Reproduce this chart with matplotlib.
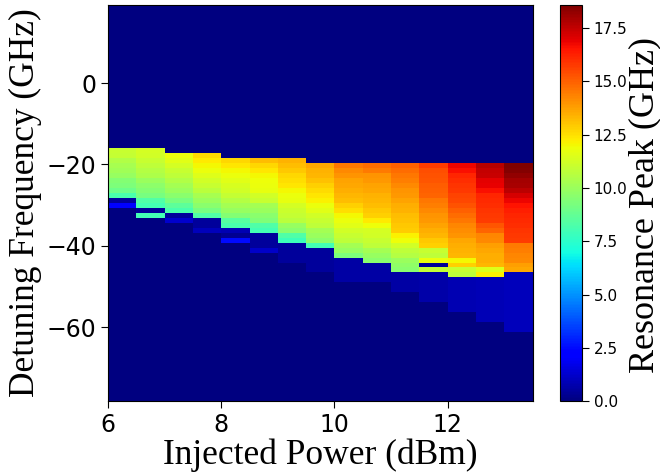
import numpy as np
import matplotlib
matplotlib.use("Agg")
import matplotlib.pyplot as plt

# injected power bins (dBm), 0.5 dBm wide
power = [6.0, 6.5, 7.0, 7.5, 8.0, 8.5, 9.0, 9.5, 10.0, 10.5, 11.0, 11.5, 12.0, 12.5, 13.0]
power_step = 0.5

# detuning sweep: 80 rows from +19.3 down to -78.3 GHz
det_top, det_bottom, n_rows = 19.3, -78.3, 80

# row index (counted from the top) where each column's non-zero values start
first_row = [29, 29, 30, 30, 31, 31, 31, 32, 32, 32, 32, 32, 32, 32, 32]

# resonance peak (GHz) read down each column from first_row
c600 = [11.0, 10.9, 10.5, 10.3, 10.1, 9.9, 9.5, 9.3, 9.0, 8.2, 0.5, 2.3]
c650 = [11.3, 11.2, 11.0, 10.8, 10.6, 10.4, 10.0, 9.7, 9.5, 9.2, 8.3, 8.0, 0.4, 8.0]
c700 = [11.8, 11.6, 11.3, 11.0, 10.8, 10.5, 10.2, 10.0, 9.6, 9.2, 8.6, 8.2, 0.5, 1.3]
c750 = [12.6, 12.3, 12.0, 11.8, 11.5, 11.2, 11.0, 10.7, 10.3, 10.0, 9.6, 9.2, 8.3,
        0.5, 0.5, 1.0]
c800 = [12.7, 12.4, 12.0, 11.8, 11.6, 11.4, 11.2, 10.9, 10.6, 10.2, 9.9, 9.5, 8.5,
        8.2, 0.8, 0.3, 2.5]
c850 = [13.2, 12.7, 12.4, 12.0, 11.9, 11.8, 11.7, 11.2, 11.0, 10.2, 10.0, 9.6, 9.4,
        8.3, 8.0, 0.5, 0.5, 0.5, 1.2]
c900 = [13.4, 13.2, 13.0, 12.7, 12.5, 12.4, 12.0, 11.8, 11.7, 11.3, 11.1, 10.9, 10.7,
        9.9, 9.6, 8.3, 7.9, 0.5, 0.5, 0.5, 0.5]
c950 = [13.6, 13.4, 13.3, 13.1, 12.8, 12.6, 12.4, 12.2, 11.8, 11.6, 11.2, 11.0, 10.8,
        10.2, 10.0, 9.7, 8.0, 0.5, 0.5, 0.5, 0.5, 0.5]
c1000 = [14.6, 14.2, 14.0, 13.7, 13.6, 13.5, 13.3, 13.2, 12.8, 12.5, 12.0, 11.8, 11.6,
         11.2, 11.0, 10.8, 10.2, 9.9, 9.3, 0.6, 0.6, 0.6, 0.6, 0.6]
c1050 = [14.8, 14.5, 14.0, 13.9, 13.7, 13.6, 13.4, 13.3, 13.2, 13.0, 12.8, 12.3, 11.9,
         11.3, 11.2, 11.0, 10.8, 10.2, 9.9, 9.6, 0.6, 0.6, 0.6, 0.6]
c1100 = [15.0, 14.8, 14.6, 14.4, 14.2, 14.0, 13.9, 13.7, 13.5, 13.4, 13.2, 13.1, 13.0,
         12.9, 12.2, 11.9, 11.2, 10.8, 10.6, 10.0, 9.8, 9.6, 0.6, 0.6, 0.6, 0.6]
c1150 = [15.7, 15.4, 15.3, 15.2, 15.1, 15.0, 14.9, 14.6, 14.4, 14.2, 14.0, 13.9, 13.7,
         13.5, 13.3, 13.0, 12.8, 11.0, 10.8, 11.8, 0.4, 10.9, 0.7, 0.7, 0.7, 0.7, 0.7, 0.7]
c1200 = [16.8, 16.6, 16.2, 16.0, 15.9, 15.8, 15.6, 15.5, 15.3, 15.0, 14.8, 14.6, 14.3,
         14.1, 14.0, 13.6, 13.5, 13.4, 13.3, 12.0, 12.8, 11.0, 10.8,
         0.8, 0.8, 0.8, 0.8, 0.8, 0.8, 0.8]
c1250 = [17.7, 17.5, 17.4, 17.0, 16.9, 16.6, 16.2, 16.1, 16.0, 15.9, 15.8, 15.7, 15.2,
         14.9, 14.3, 14.2, 13.8, 13.6, 13.5, 13.5, 13.3, 11.5, 12.2,
         0.9, 0.9, 0.9, 0.9, 0.9, 0.9, 0.9, 0.9, 0.9]
c1300 = [18.6, 18.5, 18.3, 18.0, 17.9, 17.6, 17.2, 16.8, 16.5, 16.3, 16.2, 16.1, 16.0,
         15.9, 15.8, 15.7, 14.5, 14.4, 14.3, 14.2, 13.8, 13.6,
         1.0, 1.0, 1.0, 1.0, 1.0, 1.0, 1.0, 1.0, 1.0, 1.0, 1.0, 1.0]

columns = [c600, c650, c700, c750, c800, c850, c900, c950, c1000,
           c1050, c1100, c1150, c1200, c1250, c1300]

# build the map (rows top -> bottom, one column per power bin)
peak = np.zeros((n_rows, len(power)))
for j, col in enumerate(columns):
    r0 = first_row[j]
    peak[r0:r0 + len(col), j] = col

x_edges = np.append(power, power[-1] + power_step)
y_edges = np.linspace(det_top, det_bottom, n_rows + 1)

fig = plt.figure(figsize=(6.6, 4.74), dpi=100)
ax = fig.add_axes([0.1636, 0.153, 0.6434, 0.8375])
cax = fig.add_axes([0.8485, 0.153, 0.0333, 0.8375])

mesh = ax.pcolormesh(x_edges, y_edges, peak, cmap="jet", vmin=0, vmax=peak.max())
ax.set_xlim(6, 13.5)
ax.set_ylim(det_bottom, det_top)
ax.set_xticks([6, 8, 10, 12])
ax.set_yticks([-60, -40, -20, 0])
ax.tick_params(labelsize=17, length=5)

serif = ["Liberation Serif", "DejaVu Serif"]
ax.set_xlabel("Injected Power (dBm)", fontsize=25.5, family=serif, labelpad=1)
ax.set_ylabel("Detuning Frequency (GHz)", fontsize=25.5, family=serif, labelpad=3)

cb = fig.colorbar(mesh, cax=cax)
cb.ax.tick_params(labelsize=11, length=5)
fig.text(645 / 660, 1 - 205 / 474, "Resonance Peak (GHz)", rotation=90,
         ha="center", va="center", fontsize=26, family=serif)

fig.savefig("out.png", dpi=100)
